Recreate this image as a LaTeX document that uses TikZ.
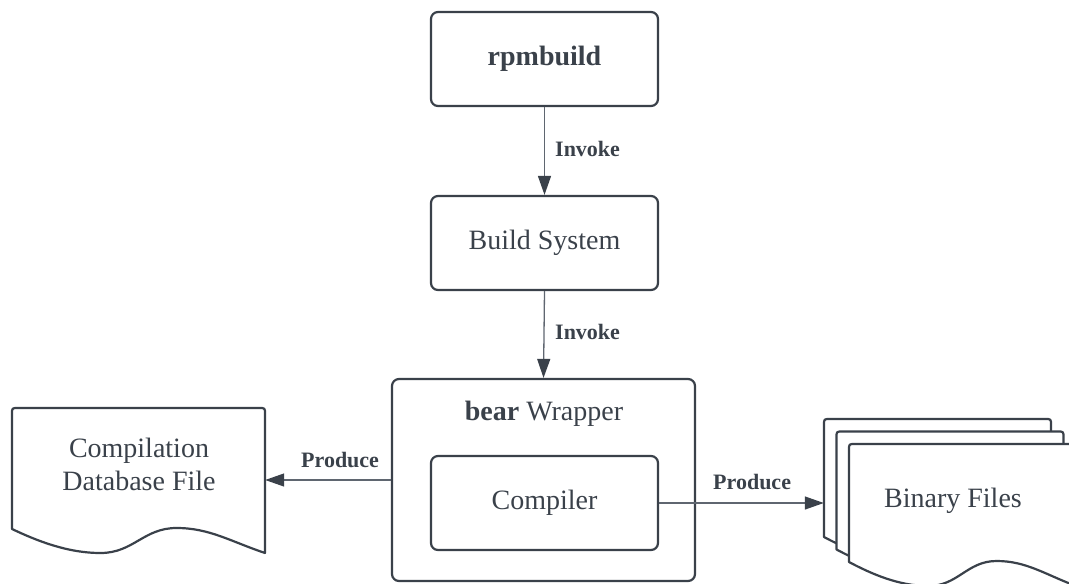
\documentclass[tikz,border=0pt]{standalone}
\usepackage{fontspec}
\setmainfont{Liberation Serif}
\usetikzlibrary{arrows.meta}
\definecolor{ink}{HTML}{3A414A}
\definecolor{wire}{HTML}{5F6670}

% Document outline: wavy bottom, rounded top corners.
% #1,#2: top-left corner, #3: width, #4: height of the left side
\newcommand{\docshape}[4]{%
  \begin{scope}[shift={(#1,#2)}]
    \filldraw[shapeline, fill=white]
      (0,#4) -- (0,6) .. controls (0,0) .. (6,0)
      -- ({#3-6},0) .. controls (#3,0) .. (#3,6)
      -- (#3,{#4+24})
      .. controls ({0.86*#3},{#4+12}) and ({0.78*#3},{#4-1}) .. ({0.65*#3},{#4-1})
      .. controls ({0.52*#3},{#4-1}) and ({0.48*#3},{#4+24}) .. ({0.35*#3},{#4+24})
      .. controls ({0.22*#3},{#4+24}) and ({0.1*#3},{#4+12}) .. (0,#4)
      -- cycle;
  \end{scope}}

\begin{document}
\begin{tikzpicture}[x=1pt, y=-1pt,
  shapeline/.style={draw=ink, line width=2.2pt, line join=round},
  box/.style={shapeline, rounded corners=7pt, minimum width=227pt, minimum height=94pt,
    inner sep=0pt, text=ink, font=\fontsize{28}{33}\selectfont},
  body/.style={text=ink, font=\fontsize{28}{33}\selectfont, align=center, inner sep=0pt},
  lbl/.style={text=ink, font=\fontsize{22}{26}\selectfont\bfseries, inner sep=0pt},
  flow/.style={draw=wire, line width=1.3pt,
    -{Triangle[length=19pt, width=13pt, fill=ink, color=ink]}}]

\useasboundingbox (0,0) rectangle (1069,584);

% Main chain
\node[box] (rpm) at (544.5,59) {\bfseries rpmbuild};
\node[box] (build) at (544.5,243) {Build System};
\node[box, minimum width=303pt, minimum height=202pt] (bear) at (543.5,480) {};
\node[body, anchor=center] (beartitle) at (544,414) {\textbf{bear} Wrapper};
\node[box] (comp) at (544.5,503) {Compiler};

% Output documents
\docshape{12}{408}{253}{121}
\node[inner sep=0pt, minimum width=253pt, minimum height=145pt] (cdb) at (138.5,480.5) {};
\node[body] (cdbtext) at (139,464) {Compilation\\Database File};

\docshape{824}{419}{227}{118}
\docshape{836.5}{431.5}{227}{118}
\docshape{849}{444}{227}{118}
\node[inner sep=0pt, minimum width=227pt, minimum height=140pt] (bin) at (937.5,489) {};
\node[body] (bintext) at (953,501) {Binary Files};

% Connectors
\draw[flow] (rpm.south) -- (build.north);
\draw[flow] (build.south) -- (bear.north);
\draw[flow] (bear.west) -- (bear.west -| cdb.east);
\draw[flow] (comp.east) -- (comp.east -| bin.west);

% Connector labels
\node[lbl, anchor=west] (l1) at (555,149) {Invoke};
\node[lbl, anchor=west] (l2) at (555,332) {Invoke};
\node[lbl, anchor=west] (l3) at (301,460) {Produce};
\node[lbl, anchor=west] (l4) at (713,482) {Produce};
\end{tikzpicture}
\end{document}
